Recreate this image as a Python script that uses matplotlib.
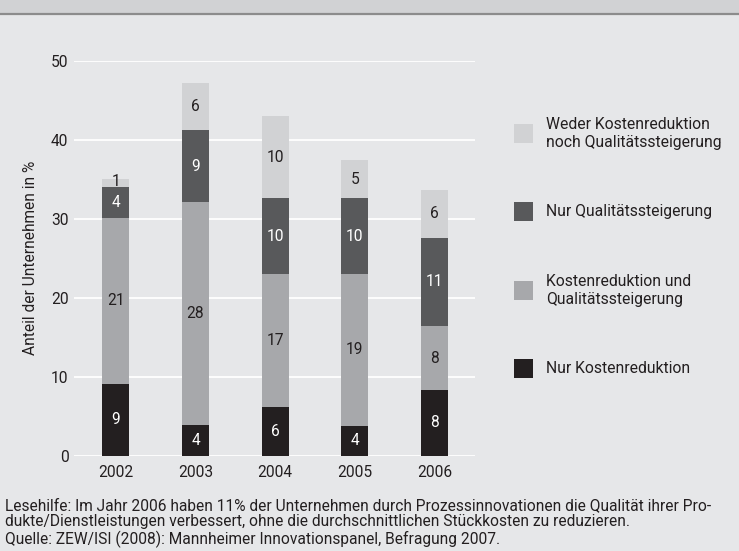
import matplotlib
matplotlib.use("Agg")
import matplotlib.pyplot as plt
from matplotlib.patches import Rectangle
from matplotlib.lines import Line2D
import numpy as np

years = ["2002", "2003", "2004", "2005", "2006"]
nur_kosten = [9.1, 3.9, 6.2, 3.8, 8.3]
kosten_und_qual = [21.0, 28.2, 16.8, 19.2, 8.1]
nur_qual = [3.9, 9.1, 9.6, 9.6, 11.2]
weder = [1.0, 6.0, 10.4, 4.8, 6.0]

series_names = ["Nur Kostenreduktion", "Kostenreduktion und\nQualitätssteigerung",
                "Nur Qualitätssteigerung", "Weder Kostenreduktion\nnoch Qualitätssteigerung"]
yticks = [0, 10, 20, 30, 40, 50]

BG = "#e6e7e9"
colors = ["#231f20", "#a7a8ab", "#58595b", "#d1d2d4"]
label_colors = ["white", "#231f20", "white", "#231f20"]
FONT = "Roboto"
TXT = "#231f20"

fig = plt.figure(figsize=(7.39, 5.51), dpi=100, facecolor=BG)
W, H = 739, 551

# top band
fig.patches.append(Rectangle((0, 1 - 13 / H), 1, 13 / H, transform=fig.transFigure,
                             facecolor="#d1d2d4", edgecolor="none", zorder=0))
fig.lines.append(Line2D([0, 1], [1 - 14 / H, 1 - 14 / H], transform=fig.transFigure,
                        color="#8c8c8c", linewidth=1.6))

ax = fig.add_axes([74 / W, (H - 455.7) / H, (475 - 74) / W, (455.7 - 60.7) / H])
ax.set_facecolor(BG)
for s in ax.spines.values():
    s.set_visible(False)
ax.set_xlim(-0.525, 4.51)
ax.set_ylim(0, 50)
ax.set_yticks(yticks)
ax.yaxis.grid(True, color="white", linewidth=1.3)
ax.set_axisbelow(True)
ax.tick_params(length=0, labelsize=11.2, colors=TXT, pad=4)
x = np.arange(len(years))
ax.set_xticks(x)
ax.set_xticklabels(years)
for lab in ax.get_yticklabels() + ax.get_xticklabels():
    lab.set_fontfamily(FONT)
ax.tick_params(axis="x", pad=7)
ax.set_ylabel("Anteil der Unternehmen in %", fontfamily=FONT, fontsize=11.2, color=TXT, labelpad=9)

data = [nur_kosten, kosten_und_qual, nur_qual, weder]
bottom = np.zeros(len(years))
for vals, c, lc in zip(data, colors, label_colors):
    vals = np.array(vals)
    ax.bar(x, vals, width=0.34, bottom=bottom, color=c, zorder=3)
    for xi, b, v in zip(x, bottom, vals):
        yc = b + v / 2
        if v < 2:
            yc = b + v - 0.3
        ax.text(xi, yc, f"{round(v):d}", ha="center", va="center", color=lc,
                fontsize=11.2, fontfamily=FONT, zorder=4)
    bottom = bottom + vals

# legend (manual)
leg_y = [368.5, 290.5, 211.5, 133.5]
for name, c, yc in zip(series_names, colors, leg_y):
    fig.patches.append(Rectangle((514 / W, (H - yc - 9.5) / H), 19 / W, 19 / H,
                                 transform=fig.transFigure, facecolor=c, edgecolor="none"))
    fig.text(546 / W, (H - yc) / H, name, ha="left", va="center", fontsize=11.3,
             fontfamily=FONT, color=TXT, linespacing=1.32)

foot = ("Lesehilfe: Im Jahr 2006 haben 11% der Unternehmen durch Prozessinnovationen die Qualität ihrer Pro-\n"
        "dukte/Dienstleistungen verbessert, ohne die durchschnittlichen Stückkosten zu reduzieren.\n"
        "Quelle: ZEW/ISI (2008): Mannheimer Innovationspanel, Befragung 2007.")
fig.text(5 / W, (H - 498) / H, foot, ha="left", va="top", fontsize=11.2, fontfamily=FONT,
         color=TXT, linespacing=1.09)

fig.savefig("out.png", dpi=100, facecolor=BG)
